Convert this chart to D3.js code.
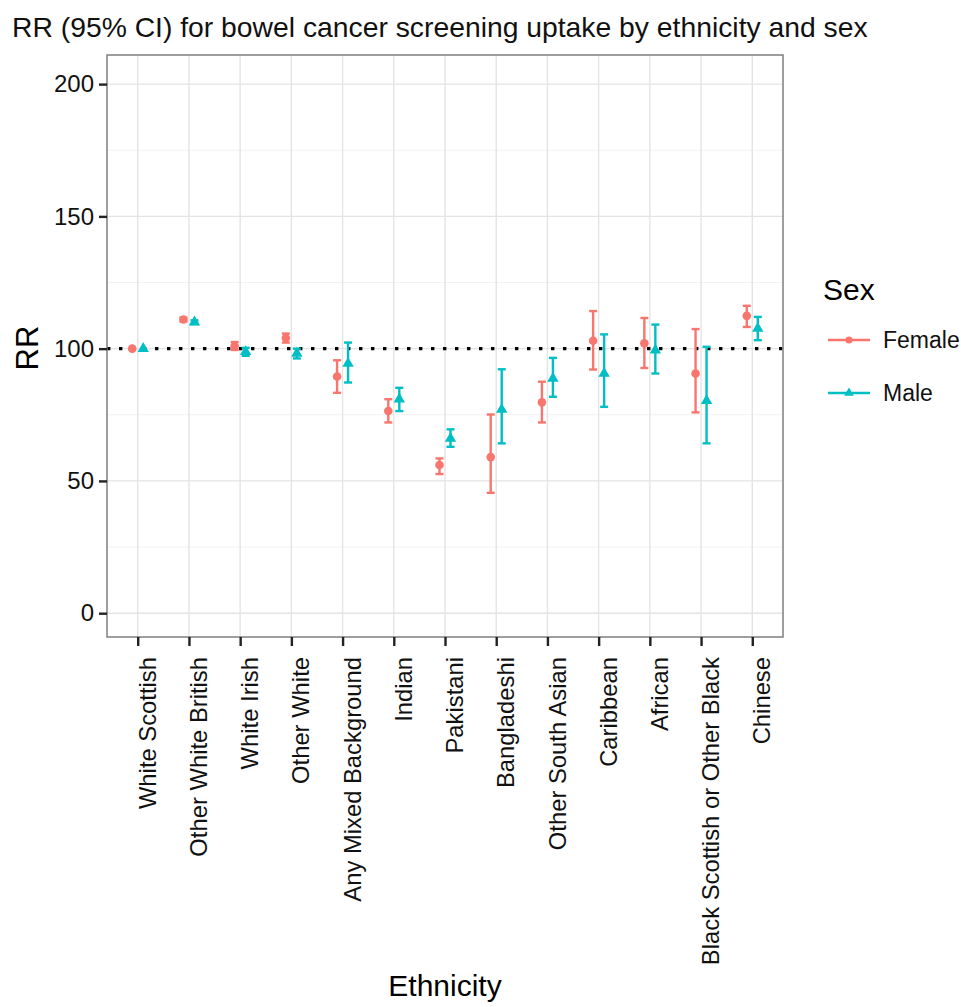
<!DOCTYPE html>
<html lang="en">
<head>
    <meta charset="UTF-8">
    <title>RR for bowel cancer screening uptake</title>
    <script src="https://d3js.org/d3.v7.min.js"></script>
    <style>
        body { margin: 0; background: #fff; }
        text { font-family: "Liberation Sans", Arial, sans-serif; }
    </style>
</head>
<body>
<div id="chart"></div>
<script>
    // categories and values
    const ethnicities = ["White Scottish", "Other White British", "White Irish", "Other White",
        "Any Mixed Background", "Indian", "Pakistani", "Bangladeshi", "Other South Asian",
        "Caribbean", "African", "Black Scottish or Other Black", "Chinese"];

    const femaleRR = [100, 111, 101, 104, 89.5, 76.4, 56, 59, 79.7, 103, 102, 90.6, 112.4];
    const femaleLo = [100, 110.3, 99.5, 102.3, 83.3, 72.1, 52.6, 45.5, 72.1, 92.1, 92.7, 75.9, 108.2];
    const femaleHi = [100, 111.7, 102.5, 105.7, 95.6, 80.9, 58.5, 75.1, 87.5, 114.2, 111.6, 107.4, 116.2];

    const maleRR = [100, 110, 98.8, 98.2, 94.4, 80.9, 66, 77, 88.7, 90.6, 99.4, 80.3, 107.6];
    const maleLo = [100, 109.3, 97.3, 96.3, 87.2, 76.4, 62.9, 64.2, 81.8, 78, 90.6, 64.2, 103.2];
    const maleHi = [100, 110.7, 100.3, 100, 102.3, 85.2, 69.5, 92.2, 96.5, 105.4, 109.1, 100.7, 112];

    const yTicks = [0, 50, 100, 150, 200];
    const yMinor = [25, 75, 125, 175];
    const refLine = 100;

    const sexes = ["Female", "Male"];
    const colors = { Female: "#F8766D", Male: "#00BFC4" };

    const W = 961, H = 1007;
    const panel = { left: 107, right: 783, top: 55, bottom: 637 };

    const svg = d3.select("#chart").append("svg")
        .attr("width", W).attr("height", H);

    const x = d3.scalePoint().domain(ethnicities)
        .range([panel.left, panel.right]).padding(0.6);
    const y = d3.scaleLinear().domain([-9, 211])
        .range([panel.bottom, panel.top]);

    // gridlines
    const grid = svg.append("g");
    grid.selectAll(".minor").data(yMinor).enter().append("line")
        .attr("x1", panel.left).attr("x2", panel.right)
        .attr("y1", d => y(d)).attr("y2", d => y(d))
        .attr("stroke", "#f2f2f2").attr("stroke-width", 1);
    grid.selectAll(".majorY").data(yTicks).enter().append("line")
        .attr("x1", panel.left).attr("x2", panel.right)
        .attr("y1", d => y(d)).attr("y2", d => y(d))
        .attr("stroke", "#e4e4e4").attr("stroke-width", 1.4);
    grid.selectAll(".majorX").data(ethnicities).enter().append("line")
        .attr("x1", d => x(d)).attr("x2", d => x(d))
        .attr("y1", panel.top).attr("y2", panel.bottom)
        .attr("stroke", "#e4e4e4").attr("stroke-width", 1.4);

    // reference line
    svg.append("line")
        .attr("x1", panel.left).attr("x2", panel.right)
        .attr("y1", y(refLine)).attr("y2", y(refLine))
        .attr("stroke", "#000").attr("stroke-width", 3.4)
        .attr("stroke-dasharray", "3.4,8.6");

    // build rows per sex
    const dodge = { Female: -5.5, Male: 5.5 };
    const rows = [];
    ethnicities.forEach((e, i) => {
        rows.push({ eth: e, sex: "Female", rr: femaleRR[i], lo: femaleLo[i], hi: femaleHi[i] });
        rows.push({ eth: e, sex: "Male", rr: maleRR[i], lo: maleLo[i], hi: maleHi[i] });
    });

    const cap = 4;
    const bars = svg.append("g").selectAll("g").data(rows.filter(d => d.hi > d.lo)).enter().append("g")
        .attr("stroke", d => colors[d.sex]).attr("stroke-width", 2.4);
    bars.append("line")
        .attr("x1", d => x(d.eth) + dodge[d.sex]).attr("x2", d => x(d.eth) + dodge[d.sex])
        .attr("y1", d => y(d.lo)).attr("y2", d => y(d.hi));
    bars.append("line")
        .attr("x1", d => x(d.eth) + dodge[d.sex] - cap).attr("x2", d => x(d.eth) + dodge[d.sex] + cap)
        .attr("y1", d => y(d.lo)).attr("y2", d => y(d.lo));
    bars.append("line")
        .attr("x1", d => x(d.eth) + dodge[d.sex] - cap).attr("x2", d => x(d.eth) + dodge[d.sex] + cap)
        .attr("y1", d => y(d.hi)).attr("y2", d => y(d.hi));

    const symbolFor = { Female: d3.symbolCircle, Male: d3.symbolTriangle };
    const symSize = { Female: 58, Male: 56 };
    svg.append("g").selectAll("path").data(rows).enter().append("path")
        .attr("transform", d => `translate(${x(d.eth) + dodge[d.sex]},${y(d.rr)})`)
        .attr("d", d => d3.symbol().type(symbolFor[d.sex]).size(symSize[d.sex])())
        .attr("fill", d => colors[d.sex]);

    // panel border
    svg.append("rect")
        .attr("x", panel.left).attr("y", panel.top)
        .attr("width", panel.right - panel.left).attr("height", panel.bottom - panel.top)
        .attr("fill", "none").attr("stroke", "#7f7f7f").attr("stroke-width", 1.5);

    // axes
    const yAxis = svg.append("g")
        .attr("transform", `translate(${panel.left},0)`)
        .call(d3.axisLeft(y).tickValues(yTicks).tickSize(8).tickPadding(5));
    yAxis.select(".domain").remove();
    yAxis.selectAll(".tick line").attr("stroke", "#222").attr("stroke-width", 2.4);
    yAxis.selectAll(".tick text").attr("font-size", 24).attr("fill", "#111")
        .style("font-family", "Liberation Sans, Arial, sans-serif");

    const xAxis = svg.append("g")
        .attr("transform", `translate(0,${panel.bottom})`)
        .call(d3.axisBottom(x).tickSize(9).tickPadding(5));
    xAxis.select(".domain").remove();
    xAxis.selectAll(".tick line").attr("stroke", "#222").attr("stroke-width", 2.4);
    xAxis.selectAll(".tick text")
        .attr("font-size", 23.8).attr("fill", "#111")
        .style("font-family", "Liberation Sans, Arial, sans-serif")
        .attr("text-anchor", "end")
        .attr("dy", "0.74em")
        .attr("transform", "translate(0,20) rotate(-90)")
        .attr("x", 0).attr("y", 0);

    // titles
    svg.append("text").attr("x", 12).attr("y", 37)
        .attr("font-size", 28.3).attr("fill", "#111")
        .text("RR (95% CI) for bowel cancer screening uptake by ethnicity and sex");

    svg.append("text")
        .attr("transform", `translate(38,${(panel.top + panel.bottom) / 2 + 2}) rotate(-90)`)
        .attr("text-anchor", "middle").attr("font-size", 31).attr("fill", "#000")
        .text("RR");

    svg.append("text")
        .attr("x", (panel.left + panel.right) / 2).attr("y", 996)
        .attr("text-anchor", "middle").attr("font-size", 30).attr("fill", "#000")
        .text("Ethnicity");

    // legend
    const legend = svg.append("g").attr("transform", "translate(808,0)");
    legend.append("text").attr("x", 15).attr("y", 300)
        .attr("font-size", 30).attr("fill", "#000").text("Sex");
    const keyY = { Female: 340, Male: 393 };
    sexes.forEach(s => {
        legend.append("line")
            .attr("x1", 20).attr("x2", 62)
            .attr("y1", keyY[s]).attr("y2", keyY[s])
            .attr("stroke", colors[s]).attr("stroke-width", 2.4);
        legend.append("path")
            .attr("transform", `translate(41,${keyY[s]})`)
            .attr("d", d3.symbol().type(symbolFor[s]).size(40)())
            .attr("fill", colors[s]);
        legend.append("text").attr("x", 75).attr("y", keyY[s])
            .attr("dy", "0.36em").attr("font-size", 23).attr("fill", "#111")
            .text(s);
    });
</script>
</body>
</html>
